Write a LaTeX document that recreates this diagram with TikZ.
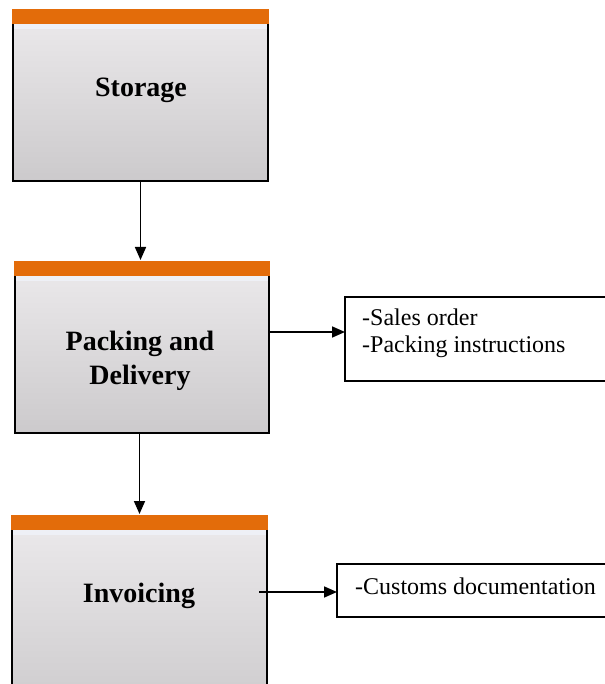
\documentclass[tikz,border=0pt]{standalone}
\usepackage{fontspec}
\setmainfont{Liberation Serif}
\usetikzlibrary{arrows.meta}
\definecolor{barorange}{RGB}{227,108,10}
\definecolor{gtop}{RGB}{236,234,236}
\definecolor{gbot}{RGB}{204,202,204}
\definecolor{lightband}{RGB}{238,240,246}
\begin{document}
\begin{tikzpicture}[x=1pt,y=-1pt,
  procbox/.style={draw=black, line width=1.6pt, top color=gtop, bottom color=gbot,
    rectangle, inner sep=0pt, outer sep=0pt, anchor=north west},
  infobox/.style={draw=black, line width=1.5pt, fill=white, rectangle,
    inner sep=0pt, outer sep=0pt, anchor=north west},
  bartop/.style={fill=barorange},
  band/.style={fill=lightband},
  title/.style={font=\fontsize{28}{34}\selectfont\bfseries, align=center, inner sep=0pt},
  info/.style={font=\fontsize{24}{27}\selectfont, align=left, inner sep=0pt},
  conn/.style={line width=1.7pt, -{Triangle[length=13pt,width=11pt]}}]
\useasboundingbox (0,0) rectangle (604,684);
\fill[white] (0,0) rectangle (604,684);

% process boxes
\node[procbox, minimum width=255pt, minimum height=171pt] (storage) at (13,10) {};
\node[procbox, minimum width=254pt, minimum height=171pt] (packing) at (15,262) {};
\node[procbox, minimum width=255pt, minimum height=200pt] (invoicing) at (12,516) {};

% light band and orange bars
\foreach \b in {storage,packing,invoicing}{
  \fill[band] ([xshift=0.8pt,yshift=-14pt]\b.north west) rectangle ([xshift=-0.8pt,yshift=-19pt]\b.north east);
  \fill[bartop] ([xshift=-0.8pt,yshift=0.8pt]\b.north west) rectangle ([xshift=0.8pt,yshift=-14pt]\b.north east);
}

% titles
\node[title, anchor=base] (storagetxt) at (141,97) {Storage};
\node[title, anchor=north] (packingtxt) at (140,331) {Packing and\\Delivery};
\node[title, anchor=base] (invoicingtxt) at (139,602) {Invoicing};

% info boxes
\node[infobox, minimum width=290pt, minimum height=84pt] (sales) at (345,297) {};
\node[infobox, minimum width=290pt, minimum height=53pt] (customs) at (337,564) {};
\node[info, anchor=north west] (salestxt) at (362,309) {-Sales order\\-Packing instructions};
\node[info, anchor=base west] (customstxt) at (355,594) {-Customs documentation};

% connectors
\draw[conn, shorten >=2pt] (storage.south) -- (storage.south |- packing.north);
\draw[conn, shorten >=2pt] (packing.south -| invoicing.north) -- (invoicing.north);
\draw[conn] ([yshift=15.5pt]packing.east) -- ([yshift=15.5pt]packing.east -| sales.west);
\coordinate (invout) at (259,592);
\draw[conn] (invout) -- (invout -| customs.west);
\end{tikzpicture}
\end{document}
